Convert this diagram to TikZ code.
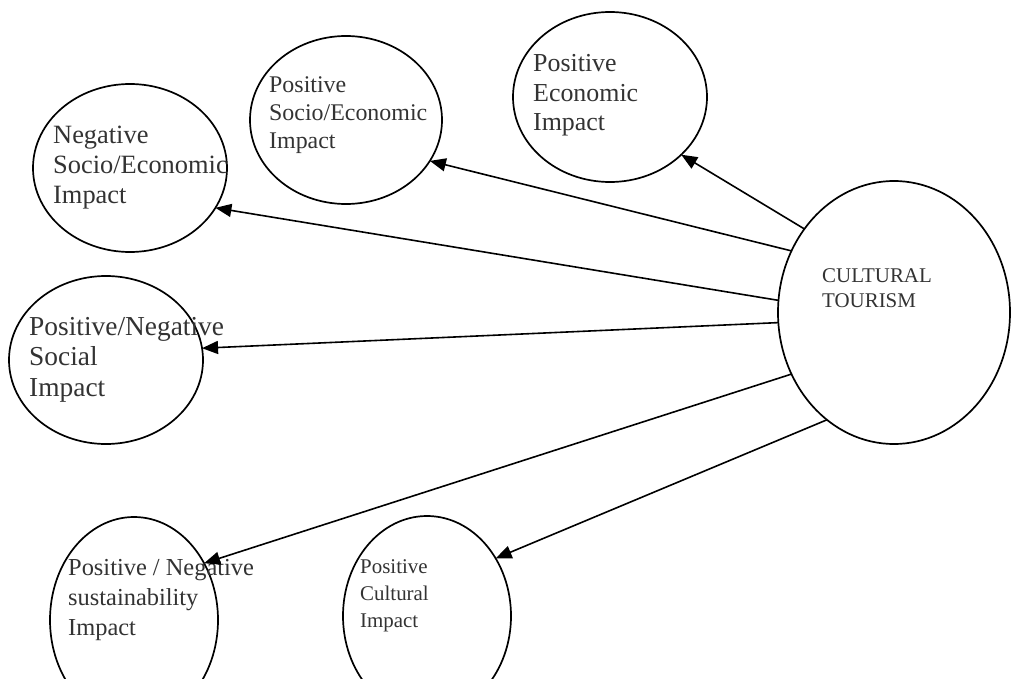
\documentclass[tikz,border=0pt]{standalone}
\usepackage{fontspec}
\setmainfont{Liberation Serif}
\usetikzlibrary{shapes.geometric,arrows.meta}
\definecolor{txt}{RGB}{51,51,51}
\tikzset{
  oval/.style={draw=black, line width=1.7bp, ellipse, inner sep=0pt, outer sep=0pt},
  lbl/.style={anchor=base west, align=left, inner sep=0pt, text=txt},
  arr/.style={line width=1.6bp, -{Triangle[length=16bp,width=13bp]}}
}
\begin{document}
\begin{tikzpicture}[x=1bp,y=-1bp]
\useasboundingbox[fill=white] (0,0) rectangle (1011,679);
% ellipses
\node[oval, minimum width=194bp, minimum height=170bp] (pe) at (610,97) {};
\node[oval, minimum width=192bp, minimum height=168bp] (pse) at (346,120) {};
\node[oval, minimum width=194bp, minimum height=168bp] (nse) at (130,168) {};
\node[oval, minimum width=194bp, minimum height=168bp] (soc) at (106,360) {};
\node[oval, minimum width=168bp, minimum height=206bp] (sus) at (134,620) {};
\node[oval, minimum width=168bp, minimum height=200bp] (cul) at (427,616) {};
\node[oval, minimum width=232bp, minimum height=263bp] (ct) at (894,312.5) {};
% labels (anchor = baseline of last line)
\node[lbl, font=\fontsize{26}{30}\selectfont] (tpe) at (533,131) {Positive\\Economic\\Impact};
\node[lbl, font=\fontsize{24}{28.5}\selectfont] (tpse) at (269,149) {Positive\\Socio/Economic\\Impact};
\node[lbl, font=\fontsize{26.5}{30}\selectfont] (tnse) at (53,203) {Negative\\Socio/Economic\\Impact};
\node[lbl, font=\fontsize{27.5}{30.5}\selectfont] (tsoc) at (29,396) {Positive/Negative\\Social\\Impact};
\node[lbl, font=\fontsize{24.5}{30}\selectfont] (tsus) at (68,635) {Positive / Negative\\sustainability\\Impact};
\node[lbl, font=\fontsize{21}{27}\selectfont] (tcul) at (360,627) {Positive\\Cultural\\Impact};
\node[lbl, font=\fontsize{21}{25}\selectfont] (tct) at (822,307) {CULTURAL\\TOURISM};
% connectors
\draw[arr] (ct.137.6) -- (pe.-39.9);
\draw[arr] (ct.149.3) -- (pse.-26.3);
\draw[arr] (ct.174.1) -- (nse.-25.6);
\draw[arr] (ct.185.9) -- (soc.7.1);
\draw[arr] (ct.211.1) -- (sus.39.8);
\draw[arr] (ct.238.4) -- (cul.40.1);
\end{tikzpicture}
\end{document}
